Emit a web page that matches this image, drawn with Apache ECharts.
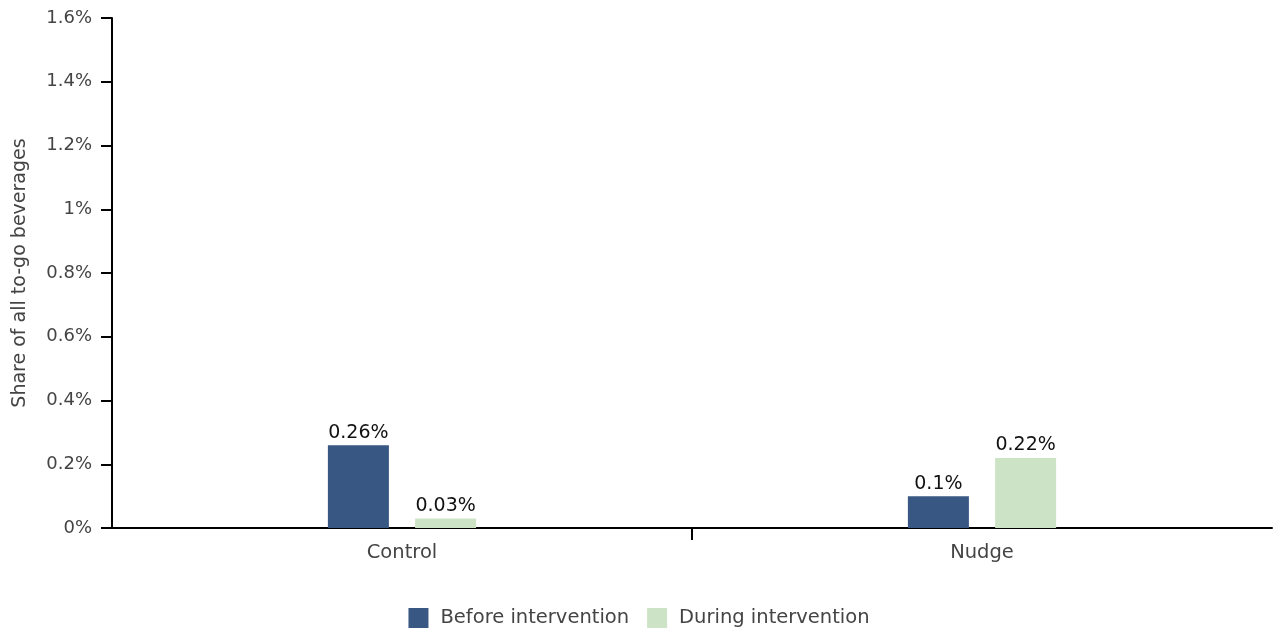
<!DOCTYPE html>
<html><head><meta charset="utf-8">
<script src="https://cdn.jsdelivr.net/npm/echarts@6/dist/echarts.min.js"></script>
<style>html,body{margin:0;padding:0;background:#fff}#c{width:1278px;height:630px}</style>
</head><body><div id="c"></div>
<script>
const categories = ['Control', 'Nudge'];
const seriesNames = ['Before intervention', 'During intervention'];
const beforeValues = [0.26, 0.1];
const duringValues = [0.03, 0.22];
const yTicks = {min: 0, max: 1.6, interval: 0.2};
const yName = 'Share of all to-go beverages';
const dividerTicks = [1];

const font = '"DejaVu Sans", sans-serif';
const chart = echarts.init(document.getElementById('c'), null, {renderer: 'canvas'});
const labelCfg = {show: true, position: 'top', distance: 3, color: '#111', fontSize: 19, fontFamily: font,
  formatter: p => p.value + '%'};
chart.setOption({
  animation: false,
  textStyle: {fontFamily: font},
  grid: {left: 112, right: 6, top: 18, bottom: 102, containLabel: false, outerBoundsMode: 'none'},
  legend: {
    top: 603, left: 'center', itemWidth: 20, itemHeight: 20, itemGap: 18,
    icon: 'rect',
    textStyle: {color: '#444', fontSize: 19.5, fontFamily: font, padding: [0, 0, 0, 7]},
    data: seriesNames
  },
  xAxis: [{
    type: 'category', data: categories,
    axisLine: {lineStyle: {color: '#000', width: 2}},
    axisTick: {show: false},
    axisLabel: {color: '#444', fontSize: 19.5, margin: 15, fontFamily: font}
  }, {
    type: 'value', position: 'bottom', min: 0, max: categories.length, interval: 1,
    axisLine: {show: false},
    axisTick: {show: true, length: 12, lineStyle: {color: '#000', width: 2}, customValues: dividerTicks},
    axisLabel: {show: false},
    splitLine: {show: false}
  }],
  yAxis: {
    type: 'value', min: yTicks.min, max: yTicks.max, interval: yTicks.interval,
    name: yName, nameLocation: 'middle', nameRotate: 90, nameGap: 82,
    nameTextStyle: {color: '#444', fontSize: 19, fontFamily: font},
    axisLine: {show: true, lineStyle: {color: '#000', width: 2}},
    axisTick: {show: true, length: 11, lineStyle: {color: '#000', width: 2}},
    splitLine: {show: false},
    axisLabel: {color: '#444', fontSize: 18, margin: 20, fontFamily: font,
      formatter: v => (Math.round(v * 10) / 10) + '%'}
  },
  series: [
    {name: seriesNames[0], type: 'bar', data: beforeValues, barWidth: 61, barGap: '43%', xAxisIndex: 0,
      itemStyle: {color: '#385783'}, label: labelCfg},
    {name: seriesNames[1], type: 'bar', data: duringValues, barWidth: 61, xAxisIndex: 0,
      itemStyle: {color: '#cde3c5'}, label: labelCfg}
  ]
});
</script></body></html>
